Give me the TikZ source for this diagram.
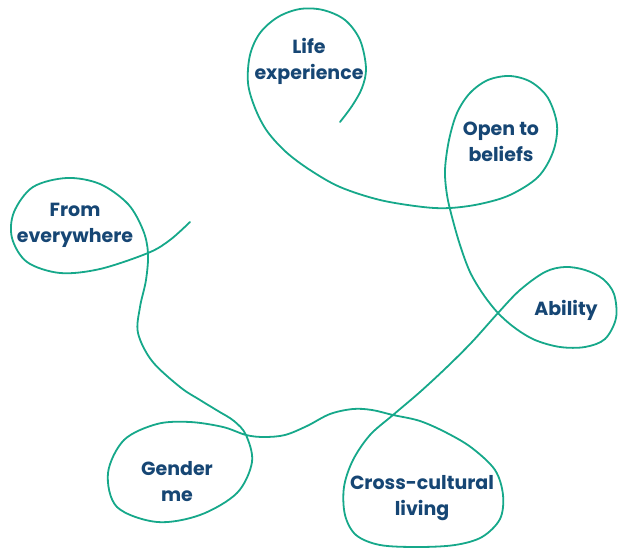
\documentclass[tikz,border=0pt]{standalone}
\usepackage{fontspec}
\setmainfont{Poppins}
\definecolor{teal}{RGB}{22,168,138}
\definecolor{navy}{RGB}{22,70,116}
\begin{document}
\begin{tikzpicture}[x=1pt,y=-1pt,
  lbl/.style={text=navy,font=\fontsize{19}{26}\selectfont\bfseries,align=center,inner sep=0pt},
  ribbon/.style={draw=teal,line width=1.8pt,line cap=round}]
\useasboundingbox (0,0) rectangle (619,548);
\draw[ribbon] plot[smooth,tension=0.55] coordinates {
 (340,122) (352,106) (362,88) (366,68) (360,40) (345,20) (323,10) (300,9) (278,17) (260,33) (250,55) (248,83) (255,108) (267,131) (286,152) (310,170) (340,187) (380,200) (423,207) (450,208) (480,204) (510,195) (538,177) (553,152) (557,125) (548,98) (531,82) (510,76) (488,80) (470,93) (457,113) (449,140) (445,170) (447,195) (452,217) (460,245) (470,272) (483,294) (498,313) (515,328) (535,340) (560,347) (585,347) (605,339) (616,318) (614,294) (603,279) (585,270) (565,267) (545,272) (520,290) (498,313) (472,342) (447,367) (420,392) (393,415) (370,435) (353,460) (344,487) (345,515) (356,535) (380,545) (418,547) (455,545) (482,537) (500,519) (503,495) (495,470) (472,448) (447,433) (420,421) (393,415) (372,410) (353,409) (330,414) (307,426) (285,435) (264,437) (246,435) (223,427) (190,422) (157,424) (124,440) (108,473) (117,507) (157,522) (200,515) (237,493) (252,462) (246,435) (234,421) (218,411) (200,400) (180,387) (152,361) (138,333) (140,307) (146,280) (148,253) (143,230) (128,204) (100,184) (67,178) (33,187) (14,212) (12,238) (27,262) (60,273) (100,269) (148,253) (170,240) (190,222)
};
\node[lbl] (life) at (309,61) {Life\\experience};
\node[lbl] (open) at (501,142) {Open to\\beliefs};
\node[lbl] (ability) at (566,310) {Ability};
\node[lbl] (from) at (75,225) {From\\everywhere};
\node[lbl] (gender) at (177,482) {Gender\\me};
\node[lbl] (cross) at (422,498) {Cross-cultural\\living};
\end{tikzpicture}
\end{document}
